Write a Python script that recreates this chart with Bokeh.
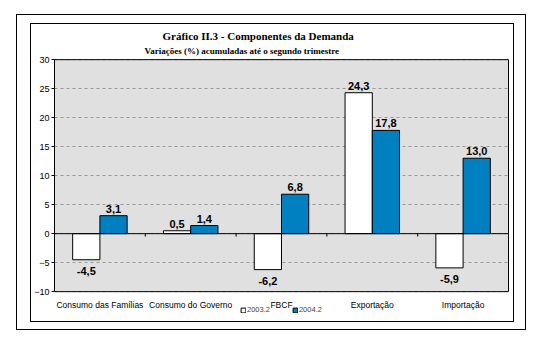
from bokeh.plotting import figure
from bokeh.layouts import column
from bokeh.models import (FactorRange, Range1d, ColumnDataSource, Span, LinearAxis,
                          Legend, LegendItem, Title, FixedTicker)
from bokeh.transform import dodge
from bokeh.core.properties import value
from bokeh.embed import file_html
from bokeh.resources import INLINE

categories = ["Consumo das Famílias", "Consumo do Governo", "FBCF", "Exportação", "Importação"]
s2003 = [-4.5, 0.5, -6.2, 24.3, -5.9]
s2004 = [3.1, 1.4, 6.8, 17.8, 13.0]
series_names = ["2003.2", "2004.2"]
y_ticks = [-10, -5, 0, 5, 10, 15, 20, 25, 30]
title_text = "Gráfico II.3 - Componentes da Demanda"
subtitle_text = "Variações (%) acumuladas até o segundo trimestre"

BLUE = "#0080C0"
GRAY = "#E0E0E0"
y_min, y_max = y_ticks[0], y_ticks[-1]

p = figure(width=482, height=297, x_range=FactorRange(factors=categories),
           y_range=Range1d(y_min - 4.8, y_max + 0.2), output_backend="svg",
           toolbar_location=None,
           min_border_left=21, min_border_right=5, min_border_top=34, min_border_bottom=2,
           background_fill_color="white", border_fill_color="white",
           outline_line_color=None)

# plot area (gray) with black border
p.quad(left=[0], right=[len(categories)], bottom=[y_min], top=[y_max],
       fill_color=GRAY, line_color=None, level="image")
p.quad(left=[0], right=[len(categories)], bottom=[y_min], top=[y_max],
       fill_color=None, line_color="black", line_width=1)

src = ColumnDataSource(dict(cat=categories, a=s2003, b=s2004))
r1 = p.vbar(x=dodge("cat", -0.15, range=p.x_range), top="a", bottom=0, width=0.3,
            source=src, fill_color="white", line_color="black", line_width=1)
r2 = p.vbar(x=dodge("cat", 0.15, range=p.x_range), top="b", bottom=0, width=0.3,
            source=src, fill_color=BLUE, line_color="black", line_width=1)

# zero line and category boundary ticks
p.add_layout(Span(location=0, dimension="width", line_color="black", line_width=1))
bounds = list(range(1, len(categories)))
p.segment(x0=bounds, y0=0, x1=bounds, y1=-0.5, line_color="black", line_width=1)

# value labels
def fmt(v):
    return f"{v:.1f}".replace(".", ",")

for off, vals in ((-0.15, s2003), (0.15, s2004)):
    s = ColumnDataSource(dict(cat=categories, y=vals, t=[fmt(v) for v in vals],
                              yo=[-7 if v >= 0 else 11 for v in vals]))
    p.text(x=dodge("cat", off, range=p.x_range), y="y", text="t", y_offset="yo", source=s,
           text_align="center", text_baseline="middle", text_font=value("Liberation Sans"),
           text_font_style="bold", text_font_size="11px", text_color="black")

# category labels under the plot area
csrc = ColumnDataSource(dict(cat=categories, y=[y_min] * len(categories)))
p.text(x="cat", y="y", text="cat", source=csrc, y_offset=13,
       text_align="center", text_baseline="middle", text_font=value("Liberation Sans"),
       text_font_size="8.5px", text_color="black")

# axes
p.xaxis.visible = False
p.xgrid.grid_line_color = None
p.ygrid.grid_line_color = "#999999"
p.ygrid.grid_line_dash = "3 3"
p.yaxis.ticker = FixedTicker(ticks=y_ticks)
p.yaxis.bounds = (y_min, y_max)
p.yaxis.minor_tick_line_color = None
p.yaxis.major_tick_in = 0
p.yaxis.major_tick_out = 3
p.yaxis.axis_line_color = "black"
p.yaxis.major_label_standoff = 2
p.yaxis.major_label_text_font = "Liberation Sans"
p.yaxis.major_label_text_font_size = "9px"
p.yaxis.major_label_text_color = "black"

right_axis = LinearAxis(bounds=(y_min, y_max), ticker=FixedTicker(ticks=[]),
                        major_tick_out=0, major_tick_in=0, major_label_standoff=0,
                        minor_tick_line_color=None, major_tick_line_color=None,
                        axis_line_color="black")
p.add_layout(right_axis, "right")

# titles (first added is nearest to the frame)
p.add_layout(Title(text=subtitle_text, align="left", offset=90, standoff=5,
                   text_font="Liberation Serif", text_font_size="9px",
                   text_font_style="bold", text_color="black"), "above")
p.add_layout(Title(text=title_text, align="left", offset=108, standoff=0,
                   text_font="Liberation Serif", text_font_size="11px",
                   text_font_style="bold", text_color="black"), "above")

# legend at the bottom of the (extended) frame
legend = Legend(items=[LegendItem(label=series_names[0], renderers=[r1]),
                       LegendItem(label=series_names[1], renderers=[r2])],
                orientation="horizontal", location=(186, 5),
                background_fill_alpha=0, border_line_color=None,
                glyph_width=6, glyph_height=6, label_standoff=1, spacing=22,
                padding=0, margin=0, label_text_font="Liberation Sans",
                label_text_font_size="7.5px", label_height=8)
p.add_layout(legend, "center")

inner = column(p, styles={"border": "1px solid black"})
outer = column(inner, margin=(14, 0, 0, 16),
               styles={"border": "1px solid black", "padding": "8px 11px 7px 13px"})

open("out.html", "w").write(file_html(outer, INLINE))
